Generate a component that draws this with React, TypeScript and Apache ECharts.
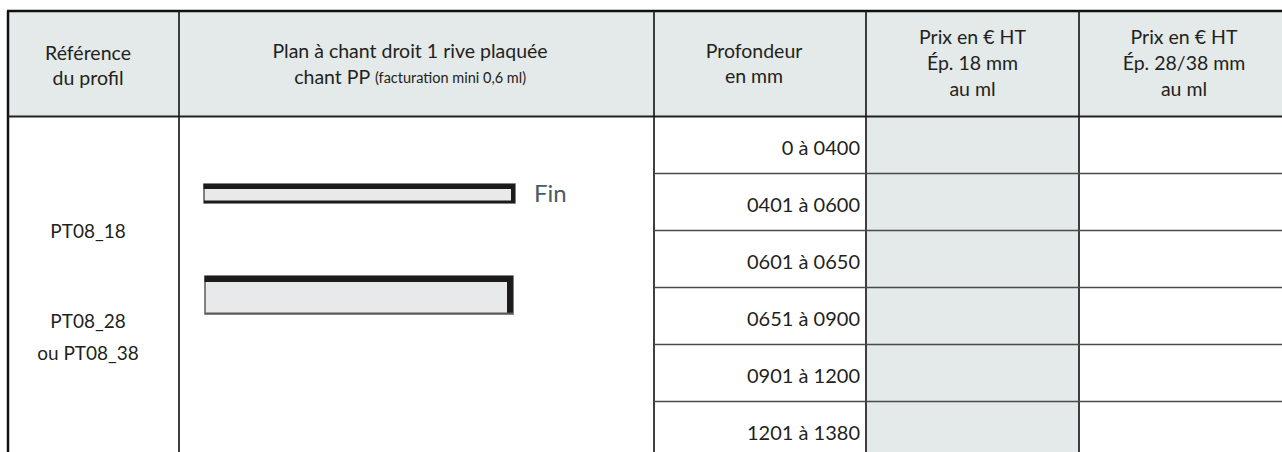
import React, { useEffect, useRef } from "react";
import * as echarts from "echarts";

// ---- table content ----
const headerTitles = [
  "Référence\ndu profil",
  "Plan à chant droit 1 rive plaquée",
  "Profondeur\nen mm",
  "Prix en € HT\nÉp. 18 mm\nau ml",
  "Prix en € HT\nÉp. 28/38 mm\nau ml",
];
const planSubtitle = "chant PP";
const planNote = "(facturation mini 0,6 ml)";
const profileRefs = ["PT08_18", "PT08_28\nou PT08_38"];
const depthRanges = ["0 à 0400", "0401 à 0600", "0601 à 0650", "0651 à 0900", "0901 à 1200", "1201 à 1380"];
const pricesEp18: string[] = ["", "", "", "", "", ""];
const pricesEp2838: string[] = ["", "", "", "", "", ""];
const edgeLabel = "Fin";

// ---- layout (in axis units = pixels) ----
const W = 1282;
const H = 452;
const COLS = [8, 179, 654, 866, 1079, 1300];
const TEXT_CX = [88, 410, 754, 972.5, 1184];
const TOP = 11;
const HEAD = 116.5;
const ROW = 57;
const FONT = "Lato";
const TEXT = "#231f20";
const GRAY = "#e4e9e9";

type Cell = {
  x0: number; y0: number; x1: number; y1: number;
  fill: string;
  text?: string;
  rich?: boolean;
  tx?: number; ty?: number;
  align?: string;
  lineHeight?: number;
  fontSize?: number;
};

const cells: Cell[] = [];
headerTitles.forEach((t, i) => {
  const c: Cell = {
    x0: COLS[i], y0: TOP, x1: COLS[i + 1], y1: HEAD, fill: GRAY, text: t,
    tx: TEXT_CX[i], ty: i >= 3 ? 62 : i === 0 ? 64.5 : 63, align: "center", lineHeight: i >= 3 ? 26 : 25, fontSize: 19.5,
  };
  if (i === 1) {
    c.rich = true;
    c.text = `{a|${t}}\n{a|${planSubtitle} }{s|${planNote}}`;
  }
  cells.push(c);
});
// merged body cells
cells.push({ x0: COLS[0], y0: HEAD, x1: COLS[1], y1: H + 20, fill: "#ffffff" });
cells.push({ x0: COLS[1], y0: HEAD, x1: COLS[2], y1: H + 20, fill: "#ffffff" });
depthRanges.forEach((d, r) => {
  const y0 = HEAD + r * ROW;
  const y1 = y0 + ROW;
  cells.push({ x0: COLS[2], y0, x1: COLS[3], y1, fill: "#ffffff", text: d, tx: 860, ty: (y0 + y1) / 2 + 1.5, align: "right", lineHeight: 24, fontSize: 20 });
  cells.push({ x0: COLS[3], y0, x1: COLS[4], y1, fill: GRAY, text: pricesEp18[r], tx: TEXT_CX[3], ty: (y0 + y1) / 2, align: "center", lineHeight: 24, fontSize: 20 });
  cells.push({ x0: COLS[4], y0, x1: COLS[5], y1, fill: "#ffffff", text: pricesEp2838[r], tx: TEXT_CX[4], ty: (y0 + y1) / 2, align: "center", lineHeight: 24, fontSize: 20 });
});
// profile reference labels
const refLabels = profileRefs.map((t, i) => ({ text: t, x: TEXT_CX[0], y: i === 0 ? 230 : 336 }));

// grid lines
type Seg = { x0: number; y0: number; x1: number; y1: number; w: number; c: string };
const segs: Seg[] = [];
segs.push({ x0: COLS[0] - 1, y0: TOP, x1: W + 10, y1: TOP, w: 2.5, c: "#111111" });
segs.push({ x0: COLS[0], y0: TOP, x1: COLS[0], y1: H + 10, w: 2.5, c: "#111111" });
segs.push({ x0: COLS[0], y0: HEAD, x1: W + 10, y1: HEAD, w: 1.8, c: "#222222" });
for (let i = 1; i <= 4; i++) segs.push({ x0: COLS[i], y0: TOP, x1: COLS[i], y1: H + 10, w: 1.7, c: "#1e1e1e" });
for (let k = 1; k < depthRanges.length; k++) segs.push({ x0: COLS[2], y0: HEAD + k * ROW, x1: W + 10, y1: HEAD + k * ROW, w: 1.6, c: "#4a4a4a" });

// profile drawings
const profiles = [
  { x0: 204, y0: 184, x1: 515, y1: 203, top: 5, right: 4, bottom: 2.5 },
  { x0: 205, y0: 276, x1: 513, y1: 314, top: 6, right: 6, bottom: 1.5 },
];

export default function App() {
  const ref = useRef<HTMLDivElement>(null);
  useEffect(() => {
    document.body.style.margin = "0";
    const chart = echarts.init(ref.current!, null, { renderer: "svg" });
    const rectOf = (api: any, x0: number, y0: number, x1: number, y1: number) => {
      const p0 = api.coord([x0, y0]);
      const p1 = api.coord([x1, y1]);
      return { x: p0[0], y: p0[1], width: p1[0] - p0[0], height: p1[1] - p0[1] };
    };
    chart.setOption({
      animation: false,
      backgroundColor: "#ffffff",
      grid: { left: 0, right: 0, top: 0, bottom: 0 },
      xAxis: { type: "value", min: 0, max: W, show: false },
      yAxis: { type: "value", min: 0, max: H, inverse: true, show: false },
      series: [
        {
          type: "custom",
          name: "cells",
          clip: false,
          silent: true,
          data: cells.map((c) => [c.x0, c.y0, c.x1, c.y1]),
          renderItem: (params: any, api: any) => {
            const c = cells[params.dataIndex];
            const children: any[] = [
              { type: "rect", shape: rectOf(api, c.x0, c.y0, c.x1, c.y1), style: { fill: c.fill } },
            ];
            if (c.text) {
              const p = api.coord([c.tx, c.ty]);
              const style: any = {
                text: c.text,
                fill: TEXT,
                fontFamily: FONT,
                fontSize: c.fontSize,
                lineHeight: c.lineHeight,
                align: c.align,
                verticalAlign: "middle",
              };
              if (c.rich) {
                style.rich = {
                  a: { fontFamily: FONT, fontSize: 19.5, lineHeight: 26, fill: TEXT },
                  s: { fontFamily: FONT, fontSize: 14.5, lineHeight: 26, fill: TEXT, verticalAlign: "middle", padding: [3, 0, 0, 0] },
                };
              }
              children.push({ type: "text", x: p[0], y: p[1], style });
            }
            return { type: "group", children };
          },
        },
        {
          type: "custom",
          name: "refs",
          clip: false,
          silent: true,
          data: refLabels.map((r) => [r.x, r.y]),
          renderItem: (params: any, api: any) => {
            const r = refLabels[params.dataIndex];
            const p = api.coord([r.x, r.y]);
            return {
              type: "text",
              x: p[0],
              y: p[1],
              style: { text: r.text, fill: TEXT, fontFamily: FONT, fontSize: 19, lineHeight: 32, align: "center", verticalAlign: "middle" },
            };
          },
        },
        {
          type: "custom",
          name: "lines",
          clip: false,
          silent: true,
          data: segs.map((s) => [s.x0, s.y0, s.x1, s.y1]),
          renderItem: (params: any, api: any) => {
            const s = segs[params.dataIndex];
            const a = api.coord([s.x0, s.y0]);
            const b = api.coord([s.x1, s.y1]);
            return { type: "line", shape: { x1: a[0], y1: a[1], x2: b[0], y2: b[1] }, style: { stroke: s.c, lineWidth: s.w } };
          },
        },
        {
          type: "custom",
          name: "profiles",
          clip: false,
          silent: true,
          data: profiles.map((p) => [p.x0, p.y0, p.x1, p.y1]),
          renderItem: (params: any, api: any) => {
            const p = profiles[params.dataIndex];
            const children: any[] = [
              { type: "rect", shape: rectOf(api, p.x0, p.y0, p.x1, p.y1), style: { fill: "#e8e9eb", stroke: "#5a5a5a", lineWidth: 1.5 } },
              { type: "rect", shape: rectOf(api, p.x0 - 0.5, p.y0, p.x1, p.y0 + p.top), style: { fill: "#1c1a1b" } },
              { type: "rect", shape: rectOf(api, p.x1 - p.right, p.y0, p.x1, p.y1), style: { fill: "#1c1a1b" } },
              { type: "rect", shape: rectOf(api, p.x0, p.y1 - p.bottom, p.x1, p.y1), style: { fill: params.dataIndex === 0 ? "#1c1a1b" : "#5a5a5a" } },
            ];
            if (params.dataIndex === 0) {
              const t = api.coord([534, (p.y0 + p.y1) / 2 - 1]);
              children.push({
                type: "text",
                x: t[0],
                y: t[1],
                style: { text: edgeLabel, fill: "#4b5966", fontFamily: FONT, fontSize: 24, align: "left", verticalAlign: "middle" },
              });
            }
            return { type: "group", children };
          },
        },
      ],
    });
    return () => chart.dispose();
  }, []);
  return <div ref={ref} style={{ width: W, height: H }} />;
}
